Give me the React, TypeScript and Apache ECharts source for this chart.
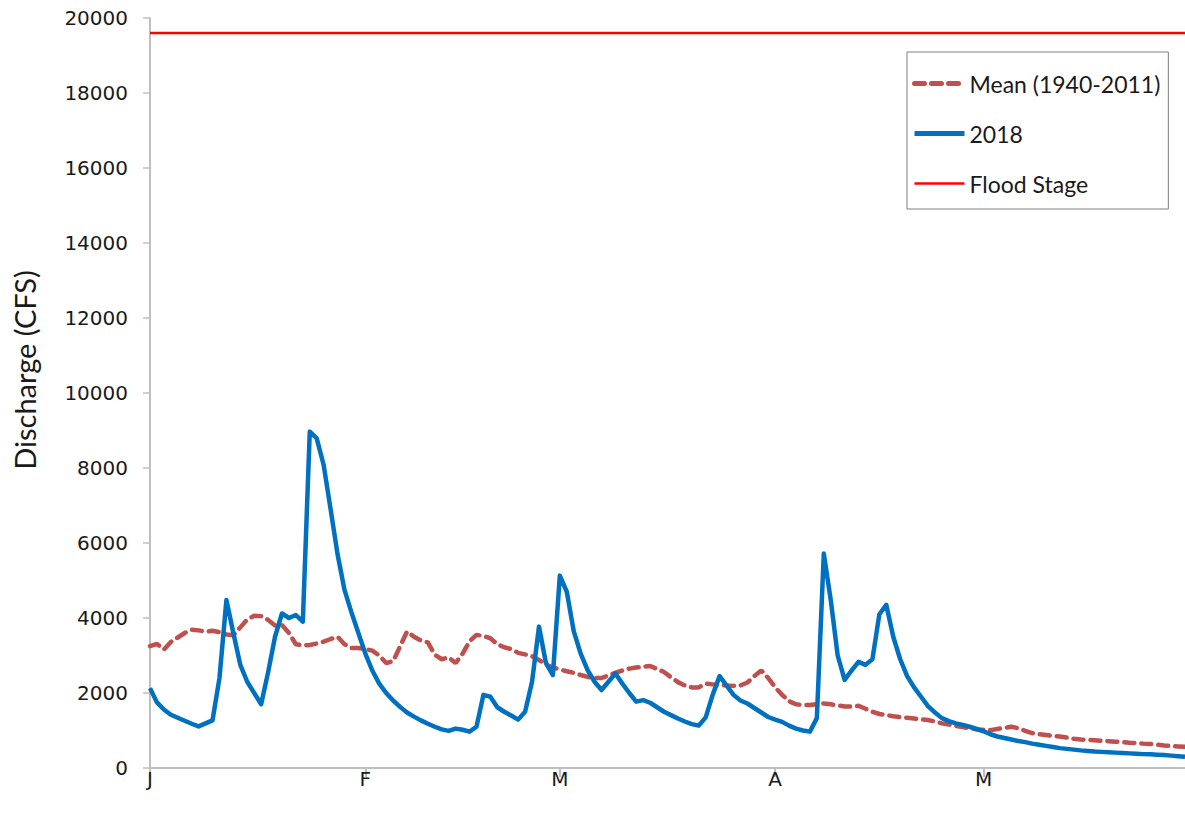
import React, { useEffect, useRef } from "react";
import * as echarts from "echarts";

// Day index 0 = Jan 1 ... 149 = May 30
const days: string[] = Array.from({ length: 150 }, (_, i) => String(i));

const monthTicks: { index: number; label: string }[] = [
  { index: 0, label: "J" },
  { index: 31, label: "F" },
  { index: 59, label: "M" },
  { index: 90, label: "A" },
  { index: 120, label: "M" },
];

const FLOOD_STAGE = 19600;

const meanFlow: number[] = [
  3250, 3310, 3160, 3360, 3480, 3600, 3690, 3670, 3640, 3660,
  3620, 3560, 3540, 3750, 3960, 4060, 4050, 3950, 3800, 3810,
  3600, 3300, 3270, 3280, 3320, 3370, 3440, 3500, 3300, 3200,
  3200, 3170, 3130, 3000, 2800, 2850, 3240, 3640, 3500, 3400,
  3350, 3020, 2900, 2950, 2800, 3050, 3380, 3550, 3520, 3460,
  3300, 3220, 3170, 3070, 3030, 2980, 2880, 2760, 2680, 2630,
  2580, 2540, 2480, 2430, 2400, 2400, 2470, 2540, 2600, 2650,
  2680, 2700, 2720, 2640, 2560, 2420, 2290, 2200, 2150, 2150,
  2250, 2230, 2210, 2200, 2190, 2200, 2280, 2450, 2600, 2400,
  2150, 1950, 1780, 1700, 1680, 1680, 1700, 1720, 1700, 1670,
  1640, 1640, 1660, 1580, 1500, 1440, 1410, 1380, 1360, 1340,
  1320, 1300, 1280, 1240, 1190, 1160, 1120, 1090, 1060, 1030,
  1020, 1010, 1040, 1070, 1100, 1060, 990, 930, 900, 880,
  860, 840, 810, 780, 760, 750, 740, 725, 715, 700,
  690, 675, 665, 650, 640, 620, 600, 585, 575, 565,
];

const flow2018: number[] = [
  2130, 1750, 1560, 1420, 1340, 1260, 1180, 1110, 1190, 1270,
  2400, 4480, 3600, 2750, 2300, 2000, 1700, 2550, 3500, 4120,
  4000, 4080, 3900, 8970, 8790, 8080, 6900, 5700, 4750, 4150,
  3600, 3050, 2600, 2250, 2000, 1800, 1630, 1480, 1370, 1270,
  1180, 1100, 1030, 990, 1050, 1020, 970, 1100, 1950, 1900,
  1620, 1500, 1400, 1290, 1500, 2300, 3770, 2800, 2480, 5130,
  4700, 3650, 3050, 2610, 2300, 2080, 2300, 2520, 2250, 2000,
  1770, 1810, 1740, 1620, 1500, 1410, 1320, 1240, 1170, 1130,
  1350, 1950, 2450, 2200, 1950, 1800, 1720, 1600, 1480, 1360,
  1290, 1230, 1130, 1050, 1000, 970, 1330, 5720, 4480, 3000,
  2350, 2600, 2830, 2750, 2900, 4100, 4350, 3500, 2900, 2450,
  2150, 1900, 1650, 1480, 1330, 1250, 1190, 1150, 1100, 1040,
  980, 900, 840, 800, 760, 720, 690, 650, 620, 590,
  560, 530, 510, 490, 470, 455, 440, 430, 420, 410,
  400, 390, 380, 370, 365, 355, 345, 330, 315, 300,
];

const floodLine: number[] = days.map(() => FLOOD_STAGE);

const tickSet = new Set(monthTicks.map((m) => m.index));
const labelFor = (i: number) => monthTicks.find((m) => m.index === i)?.label ?? "";

const MEAN_COLOR = "#c0504d";
const BLUE = "#0070c0";
const FLOOD_COLOR = "#ff0000";
const MEAN_DASH = [10, 7];

export default function App() {
  const ref = useRef<HTMLDivElement>(null);
  useEffect(() => {
    if (!ref.current) return;
    const chart = echarts.init(ref.current, null, { renderer: "svg" });
    chart.setOption({
      animation: false,
      backgroundColor: "#ffffff",
      grid: { left: 150, right: 0, top: 18, bottom: 50, containLabel: false },
      legend: {
        orient: "vertical",
        left: 907,
        top: 52,
        padding: [20, 8, 14, 5],
        itemWidth: 50,
        itemHeight: 24,
        itemGap: 27,
        borderColor: "#7f7f7f",
        borderWidth: 1,
        backgroundColor: "#ffffff",
        itemStyle: { opacity: 0 },
        textStyle: { fontFamily: "Lato", fontSize: 23, color: "#1a1a1a" },
        data: [
          {
            name: "Mean (1940-2011)",
            lineStyle: { color: MEAN_COLOR, width: 5, type: MEAN_DASH, cap: "round" },
          },
          { name: "2018", lineStyle: { color: BLUE, width: 5 } },
          { name: "Flood Stage", lineStyle: { color: FLOOD_COLOR, width: 2.5 } },
        ],
      },
      graphic: [
        {
          type: "text",
          x: 24,
          y: 370,
          rotation: Math.PI / 2,
          style: {
            text: "Discharge (CFS)",
            fontFamily: "Lato",
            fontSize: 29,
            fill: "#1a1a1a",
            align: "center",
            verticalAlign: "middle",
          },
        },
      ],
      xAxis: {
        type: "category",
        data: days,
        boundaryGap: false,
        axisLine: { lineStyle: { color: "#bfbfbf", width: 2 } },
        axisTick: {
          show: true,
          interval: (i: number) => tickSet.has(i),
          length: 9,
          lineStyle: { color: "#bfbfbf", width: 2 },
        },
        axisLabel: {
          interval: (i: number) => tickSet.has(i),
          formatter: (_v: string, i: number) => labelFor(i),
          margin: 1,
          fontFamily: "DejaVu Sans",
          fontSize: 20,
          color: "#1a1a1a",
        },
        splitLine: { show: false },
      },
      yAxis: {
        type: "value",
        min: 0,
        max: 20000,
        interval: 2000,
        axisLine: { show: true, lineStyle: { color: "#bfbfbf", width: 2 } },
        axisTick: { show: true, length: 7, lineStyle: { color: "#bfbfbf", width: 1.5 } },
        axisLabel: {
          margin: 22,
          fontFamily: "DejaVu Sans",
          fontSize: 20,
          color: "#1a1a1a",
          formatter: (v: number) => String(v),
        },
        splitLine: { show: false },
      },
      series: [
        {
          name: "Mean (1940-2011)",
          type: "line",
          data: meanFlow,
          symbol: "none",
          color: MEAN_COLOR,
          lineStyle: { color: MEAN_COLOR, width: 4.5, type: MEAN_DASH, cap: "round" },
          z: 2,
        },
        {
          name: "2018",
          type: "line",
          data: flow2018,
          symbol: "none",
          color: BLUE,
          lineStyle: { color: BLUE, width: 4.5, join: "round" },
          z: 3,
        },
        {
          name: "Flood Stage",
          type: "line",
          data: floodLine,
          symbol: "none",
          color: FLOOD_COLOR,
          lineStyle: { color: FLOOD_COLOR, width: 2.5 },
          z: 4,
        },
      ],
    });
    return () => chart.dispose();
  }, []);
  return (
    <div
      ref={ref}
      style={{ position: "fixed", left: 0, top: 0, width: 1185, height: 818 }}
    />
  );
}
